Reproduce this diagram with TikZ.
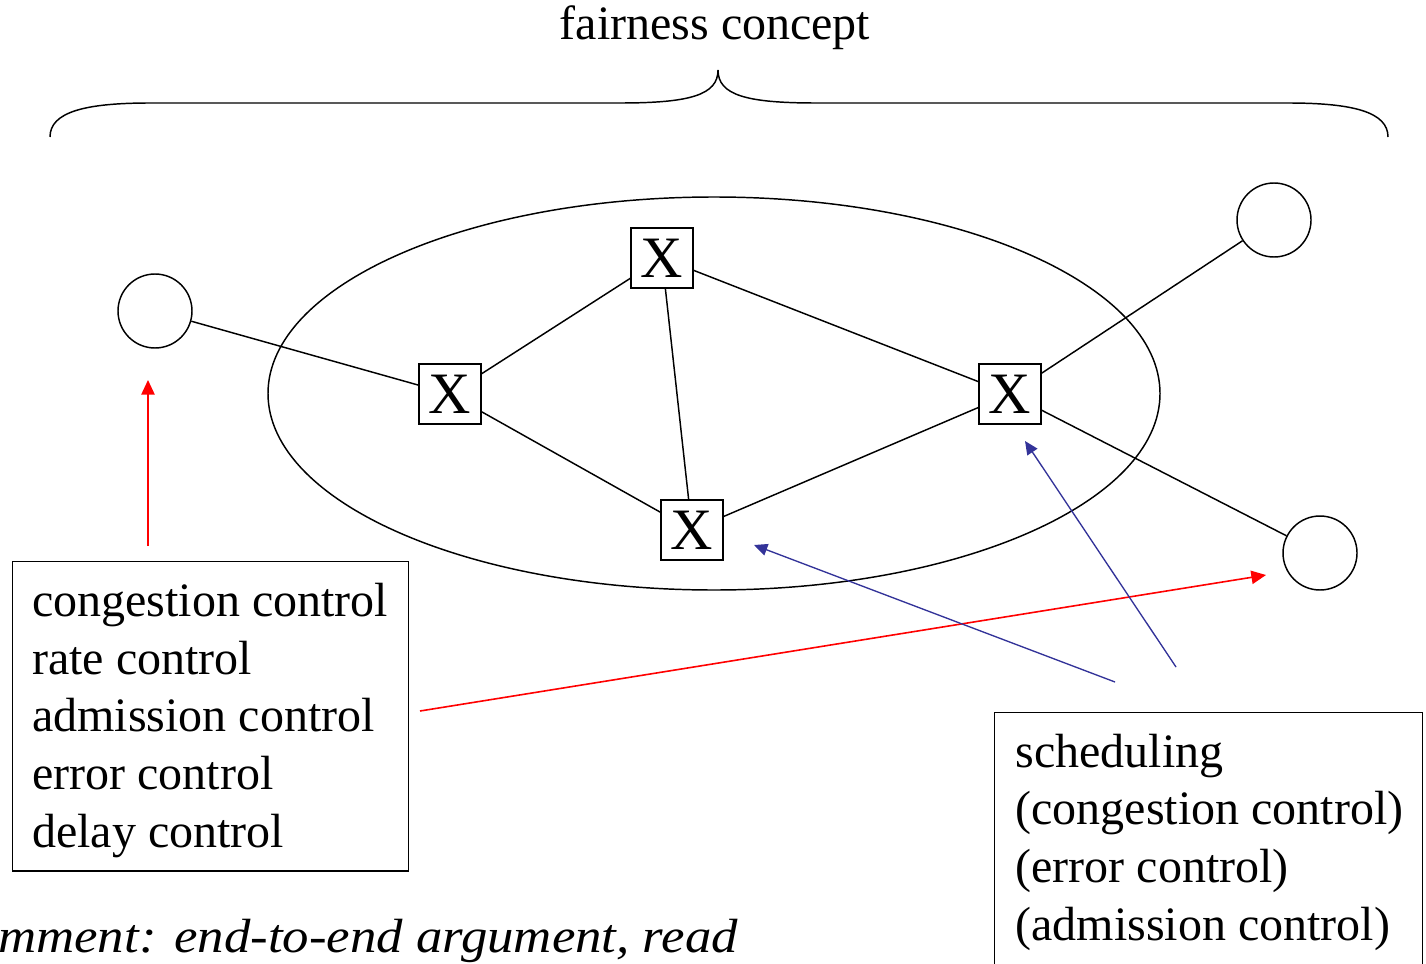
\documentclass[tikz,border=0pt]{standalone}
\usepackage{fontspec}
\setmainfont{Liberation Serif}
\usetikzlibrary{arrows.meta}
\definecolor{arrblue}{RGB}{51,51,153}
\begin{document}
\begin{tikzpicture}[x=0.75pt,y=-0.75pt,
  line/.style={line width=1.1pt},
  xbox/.style={draw,line width=1.1pt,minimum width=46.5pt,minimum height=45pt,inner sep=0pt,font=\fontsize{44}{44}\selectfont},
  host/.style={draw,circle,line width=1.1pt,minimum size=55.5pt,inner sep=0pt},
  frame/.style={draw,line width=1.1pt,anchor=north west,inner sep=0pt},
  txtblock/.style={align=left,anchor=west,inner sep=0pt,font=\fontsize{36}{43.2}\selectfont},
  redarr/.style={draw=red,line width=1.2pt,-{Triangle[length=11pt,width=10pt]},fill=red},
  bluearr/.style={draw=arrblue,line width=1pt,-{Triangle[length=10pt,width=9pt]},fill=arrblue}]
\clip (0,0) rectangle (1426,963);
\fill[white] (0,0) rectangle (1426,963);
% title and brace
\node[font=\fontsize{36}{36}\selectfont] (title) at (715,28) {fairness concept};
\draw[line] (50,137) .. controls (50,112) and (85,103) .. (150,103) -- (620,103)
  .. controls (690,103) and (718,95) .. (718,70)
  .. controls (718,95) and (746,103) .. (816,103) -- (1288,103)
  .. controls (1353,103) and (1388,112) .. (1388,137);
% network cloud
\draw[line] (714,393.5) ellipse [x radius=446, y radius=196.5];
% nodes
\node[host] (L) at (155,311) {};
\node[host] (TR) at (1274,220) {};
\node[host] (BR) at (1320,553) {};
\node[xbox] (A) at (450,394) {X};
\node[xbox] (B) at (662,258) {X};
\node[xbox] (C) at (692,530) {X};
\node[xbox] (D) at (1010,394) {X};
% edges
\draw[line] (L) -- (A);
\draw[line] (A) -- (B);
\draw[line] (A) -- (C);
\draw[line] (B) -- (C);
\draw[line] (B) -- (D);
\draw[line] (C) -- (D);
\draw[line] (D) -- (TR);
\draw[line] (D) -- (BR);
% text boxes
\node[frame,minimum width=297pt,minimum height=232pt] (left) at (12,561) {};
\node[txtblock] (lefttext) at ([xshift=15pt,yshift=-3pt]left.west) {congestion control\\rate control\\admission control\\error control\\delay control};
\node[frame,minimum width=321pt,minimum height=192pt] (right) at (994,712) {};
\node[txtblock] (righttext) at ([xshift=16pt,yshift=-1pt]right.west) {scheduling\\(congestion control)\\(error control)\\(admission control)};
% arrows
\coordinate (r1s) at (148,546);
\coordinate (r1e) at (148,380);
\coordinate (r2s) at (420,711);
\coordinate (r2e) at (1266,575);
\coordinate (b1s) at (1115,682);
\coordinate (b1e) at (754,545);
\coordinate (b2s) at (1176,667);
\coordinate (b2e) at (1025,441);
\draw[redarr] (r1s) -- (r1e);
\draw[redarr] (r2s) -- (r2e);
\draw[bluearr] (b1s) -- (b1e);
\draw[bluearr] (b2s) -- (b2e);
% comment
\node[anchor=base west,inner sep=0pt,font=\fontsize{36}{36}\selectfont\itshape] (comment) at (-2,952) {\scalebox{1.1}[1]{mment: end-to-end argument, read}};
\end{tikzpicture}
\end{document}
